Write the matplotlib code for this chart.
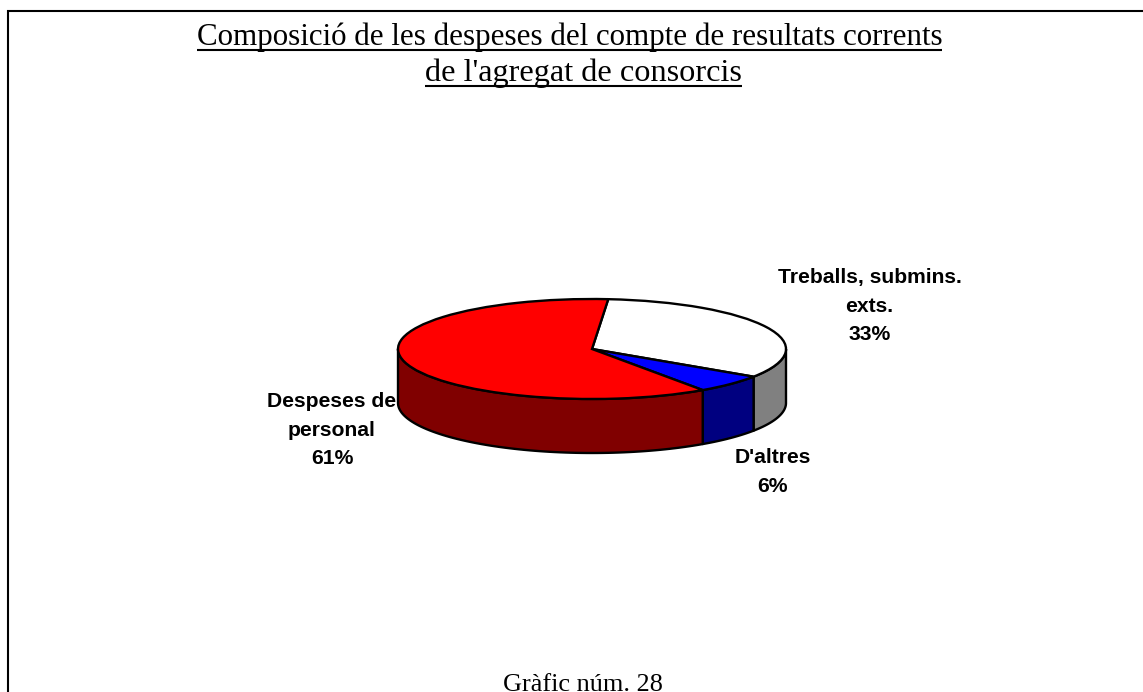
import numpy as np
import matplotlib
matplotlib.use("Agg")
from matplotlib import pyplot as plt
from matplotlib.patches import Polygon

W, H = 1143, 692

# dades
labels = ["Treballs, submins.\nexts.", "D'altres", "Despeses de\npersonal"]
values = [33, 6, 61]
top_colors = ["#ffffff", "#0000ff", "#ff0000"]
side_colors = ["#808080", "#000080", "#800000"]
title_lines = ["Composició de les despeses del compte de resultats corrents",
               "de l'agregat de consorcis"]
caption = "Gràfic núm. 28"

start_angle = 85.2
depth = 54 / 50  # alçada del cilindre, en radis verticals

fig = plt.figure(figsize=(W / 100, H / 100), dpi=100, facecolor="white")

# capa de fons en pixels
bg = fig.add_axes([0, 0, 1, 1])
bg.set_xlim(0, W)
bg.set_ylim(H, 0)
bg.axis("off")
bg.plot([8, 8, W], [H, 11, 11], color="black", lw=1.5, solid_joinstyle="miter")

# formatatge del pastis: 388x100 px, escapcat en perspectiva
cx, cy, rx, ry = 592, 349, 194, 50
ax = fig.add_axes([(cx - rx) / W, 1 - (cy + ry) / H, 2 * rx / W, 2 * ry / H])
ax.patch.set_alpha(0)

# parets laterals, nomes la meitat inferior es veu
a0 = start_angle
for val, col in zip(values, side_colors):
    a1 = a0 - val * 3.6
    lo = max(a1, -180)
    hi = min(a0, 0)
    if hi > lo:
        t = np.radians(np.linspace(hi, lo, 80))
        x = np.cos(t)
        y = np.sin(t)
        pts = np.concatenate([np.c_[x, y], np.c_[x[::-1], y[::-1] - depth]])
        ax.add_patch(Polygon(pts, closed=True, facecolor=col, edgecolor="black",
                             lw=1.7, clip_on=False, zorder=1, joinstyle="round"))
    a0 = a1

wedges, _ = ax.pie(values, colors=top_colors, startangle=start_angle, counterclock=False,
                   radius=1, center=(0, 0), frame=False,
                   wedgeprops=dict(edgecolor="black", linewidth=1.7, clip_on=False, zorder=2))
ax.set_aspect("auto")
ax.set_xlim(-1, 1)
ax.set_ylim(-1, 1)
ax.axis("off")

# titols
fig.canvas.draw()
r = fig.canvas.get_renderer()
title_x = [569.5, 583.5]
title_y = [45, 81]
title_size = [22.3, 23.2]
for txt, x, y, s in zip(title_lines, title_x, title_y, title_size):
    t = bg.text(x, y, txt, family="Liberation Serif", fontsize=s, ha="center",
                va="baseline", color="black")
    bb = t.get_window_extent(r)
    bg.plot([bb.x0, bb.x1], [y + 5, y + 5], color="black", lw=1.5, solid_capstyle="butt")

bg.text(582.5, 691, caption, family="Liberation Serif", fontsize=18.9, ha="center",
        va="baseline", color="black")

# etiquetes de dades, linia a linia
label_x = [869.5, 332, 773]
label_y = [283, 407, 463]
label_order = [0, 2, 1]
for i, lx, ly in zip(label_order, label_x, label_y):
    rows = labels[i].split("\n") + [f"{values[i]}%"]
    for k, row in enumerate(rows):
        bg.text(lx, ly + k * 28.5, row, family="Liberation Sans", fontweight="bold",
                fontsize=15.2, ha="center", va="baseline", color="black", zorder=5)

fig.savefig("out.png", dpi=100, facecolor="white")
